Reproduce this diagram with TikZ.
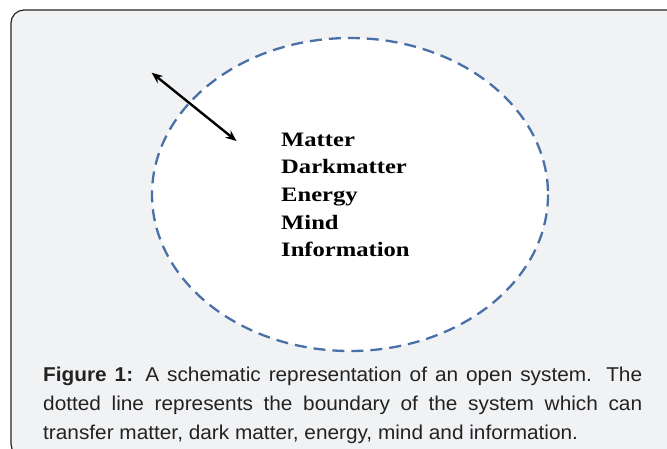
\documentclass[tikz,border=0pt]{standalone}
\usepackage{fontspec}
\setmainfont{Liberation Sans}
\newfontfamily\capfont[FakeStretch=1.04]{Liberation Sans}
\newfontfamily\innerfont[FakeStretch=1.2]{Liberation Serif}
\usetikzlibrary{arrows.meta}
\definecolor{panelgray}{HTML}{F1F2F4}
\definecolor{bndblue}{HTML}{4A70A8}
\definecolor{captext}{HTML}{222222}
\tikzset{
  panel/.style={rounded corners=13pt, fill=panelgray, draw=black!85, line width=1.2pt},
  boundary/.style={draw=bndblue, fill=white, line width=2.3pt, dash pattern=on 12pt off 7pt},
  item/.style={anchor=base west, inner sep=0pt, font=\innerfont\bfseries\fontsize{20.5}{22}\selectfont, text=black},
  capline/.style={anchor=base west, inner sep=0pt, font=\capfont\fontsize{20}{29}\selectfont, text=captext},
  flow/.style={{Stealth[length=11pt,width=9pt]}-{Stealth[length=11pt,width=9pt]}, line width=2.4pt, black}
}
\begin{document}
\begin{tikzpicture}[x=1pt,y=-1pt]
\useasboundingbox (0,0) rectangle (667,448);
\clip (0,0) rectangle (667,448);
\fill[white] (0,0) rectangle (667,448);
\draw[panel] (11,10) rectangle (680,457);
\draw[boundary] (350,194.5) ellipse [x radius=198, y radius=156.5];
\node[item] (matter) at (281,146) {Matter};
\node[item] (dark) at (281,173.5) {Darkmatter};
\node[item] (energy) at (281,201) {Energy};
\node[item] (mind) at (281,229) {Mind};
\node[item] (info) at (281,256.5) {Information};
\coordinate (aout) at (151.7,72.7);
\coordinate (ain) at (236.5,141);
\draw[flow] (aout) -- (ain);
\node[capline] (cap1) at (43,381.5) {\makebox[599pt][s]{\textbf{Figure 1:} A schematic representation of an open system. The}};
\node[capline] (cap2) at (43,410.5) {\makebox[599pt][s]{dotted line represents the boundary of the system which can}};
\node[capline] (cap3) at (43,439.5) {transfer matter, dark matter, energy, mind and information.};
\end{tikzpicture}
\end{document}
